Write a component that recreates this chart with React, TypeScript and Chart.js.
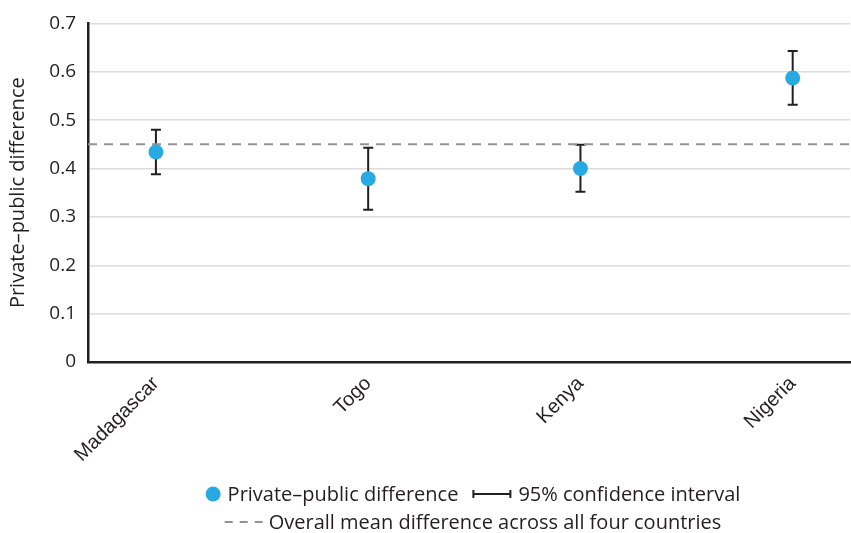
import React, { useEffect, useRef } from "react";
import { Chart, registerables } from "chart.js";

Chart.register(...registerables);

const countries = ["Madagascar", "Togo", "Kenya", "Nigeria"];
const differences = [0.434, 0.379, 0.4, 0.587];
const ciLow = [0.388, 0.315, 0.352, 0.532];
const ciHigh = [0.48, 0.443, 0.449, 0.643];
const overallMean = 0.45;
const yTicks = [0, 0.1, 0.2, 0.3, 0.4, 0.5, 0.6, 0.7];

const legendLabels = [
  "Private\u2013public difference",
  "95% confidence interval",
  "Overall mean difference across all four countries",
];

const X_MIN = -0.32;
const X_MAX = 3.27;

const INK = "#231f20";
const BLUE = "#27aae1";
const DASH = "#939393";
const FONT = "'Open Sans', sans-serif";

const errorBarPlugin = {
  id: "errorBars",
  beforeDatasetsDraw(chart: any) {
    const { ctx } = chart;
    const xs = chart.scales.x;
    const ys = chart.scales.y;
    ctx.save();
    ctx.strokeStyle = INK;
    ctx.lineWidth = 2;
    for (let i = 0; i < countries.length; i++) {
      const x = xs.getPixelForValue(i);
      const y1 = ys.getPixelForValue(ciLow[i]);
      const y2 = ys.getPixelForValue(ciHigh[i]);
      ctx.beginPath();
      ctx.moveTo(x, y1);
      ctx.lineTo(x, y2);
      ctx.moveTo(x - 5, y1);
      ctx.lineTo(x + 5, y1);
      ctx.moveTo(x - 5, y2);
      ctx.lineTo(x + 5, y2);
      ctx.stroke();
    }
    ctx.restore();
  },
};

const legendPlugin = {
  id: "customLegend",
  afterDraw(chart: any) {
    const { ctx, chartArea } = chart;
    const cx = (chartArea.left + chartArea.right) / 2 + 4;
    ctx.save();
    ctx.font = `20px ${FONT}`;
    ctx.textBaseline = "middle";
    ctx.fillStyle = INK;
    // row 1
    const w1 = ctx.measureText(legendLabels[0]).width;
    const w2 = ctx.measureText(legendLabels[1]).width;
    const row1 = 15 + 7 + w1 + 14 + 39 + 7 + w2;
    let x = cx - row1 / 2;
    const y1 = 494;
    ctx.fillStyle = BLUE;
    ctx.beginPath();
    ctx.arc(x + 7.5, y1, 7.5, 0, Math.PI * 2);
    ctx.fill();
    x += 22;
    ctx.fillStyle = INK;
    ctx.fillText(legendLabels[0], x, y1 + 1);
    x += w1 + 14;
    ctx.strokeStyle = INK;
    ctx.lineWidth = 2;
    ctx.beginPath();
    ctx.moveTo(x, y1);
    ctx.lineTo(x + 39, y1);
    ctx.moveTo(x + 1, y1 - 4);
    ctx.lineTo(x + 1, y1 + 4);
    ctx.moveTo(x + 38, y1 - 4);
    ctx.lineTo(x + 38, y1 + 4);
    ctx.stroke();
    x += 46;
    ctx.fillText(legendLabels[1], x, y1 + 1);
    // row 2
    const w3 = ctx.measureText(legendLabels[2]).width;
    const row2 = 38 + 6 + w3;
    x = cx - row2 / 2;
    const y2 = 522;
    ctx.strokeStyle = DASH;
    ctx.lineWidth = 2;
    ctx.setLineDash([8, 7]);
    ctx.beginPath();
    ctx.moveTo(x, y2);
    ctx.lineTo(x + 38, y2);
    ctx.stroke();
    ctx.setLineDash([]);
    ctx.fillText(legendLabels[2], x + 44, y2 + 1);
    ctx.restore();
  },
};

export default function App() {
  const ref = useRef<HTMLCanvasElement | null>(null);
  useEffect(() => {
    if (!ref.current) return;
    const chart = new Chart(ref.current, {
      type: "scatter",
      data: {
        datasets: [
          {
            label: legendLabels[0],
            data: differences.map((v, i) => ({ x: i, y: v })),
            backgroundColor: BLUE,
            borderColor: BLUE,
            pointRadius: 7.5,
            pointBorderWidth: 0,
            showLine: false,
          },
          {
            label: legendLabels[2],
            type: "line",
            data: [
              { x: X_MIN, y: overallMean },
              { x: X_MAX, y: overallMean },
            ],
            borderColor: DASH,
            borderWidth: 2,
            borderDash: [9, 7],
            pointRadius: 0,
            fill: false,
          } as any,
        ],
      },
      options: {
        animation: false,
        responsive: false,
        events: [],
        layout: { autoPadding: false, padding: { top: 22, left: 0, right: 1, bottom: 56 } },
        plugins: { legend: { display: false }, tooltip: { enabled: false } },
        scales: {
          x: {
            type: "linear",
            min: X_MIN,
            max: X_MAX,
            afterBuildTicks(scale: any) {
              scale.ticks = countries.map((_, i) => ({ value: i }));
            },
            afterFit(scale: any) {
              scale.height = 115;
              scale.paddingLeft = 0;
              scale.paddingRight = 0;
            },
            grid: { display: false, drawTicks: false },
            border: { display: true, color: INK, width: 2.5 },
            ticks: {
              minRotation: 45,
              maxRotation: 45,
              padding: 10,
              color: INK,
              font: { family: "'Liberation Sans', Arial, sans-serif", size: 20 },
              callback: (v: any) => countries[Math.round(Number(v))] ?? "",
            },
          },
          y: {
            min: 0,
            max: 0.7,
            afterBuildTicks(scale: any) {
              scale.ticks = yTicks.map((v) => ({ value: v }));
            },
            afterFit(scale: any) {
              scale.width = 88;
            },
            grid: { color: "#dcdcdc", lineWidth: 1.5, drawTicks: false },
            border: { display: true, color: INK, width: 2.5 },
            ticks: {
              padding: 12,
              color: INK,
              font: { family: FONT, size: 19 },
              callback: (v: any) => (Number(v) === 0 ? "0" : Number(v).toFixed(1)),
            },
            title: {
              display: true,
              text: "Private\u2013public difference",
              color: INK,
              font: { family: FONT, size: 20 },
              padding: { top: 6, bottom: 0 },
            },
          },
        },
      },
      plugins: [errorBarPlugin, legendPlugin],
    });
    return () => chart.destroy();
  }, []);
  return (
    <div style={{ position: "absolute", left: 0, top: 0, width: 851, height: 533, background: "#fff" }}>
      <canvas ref={ref} width={851} height={533} />
    </div>
  );
}
